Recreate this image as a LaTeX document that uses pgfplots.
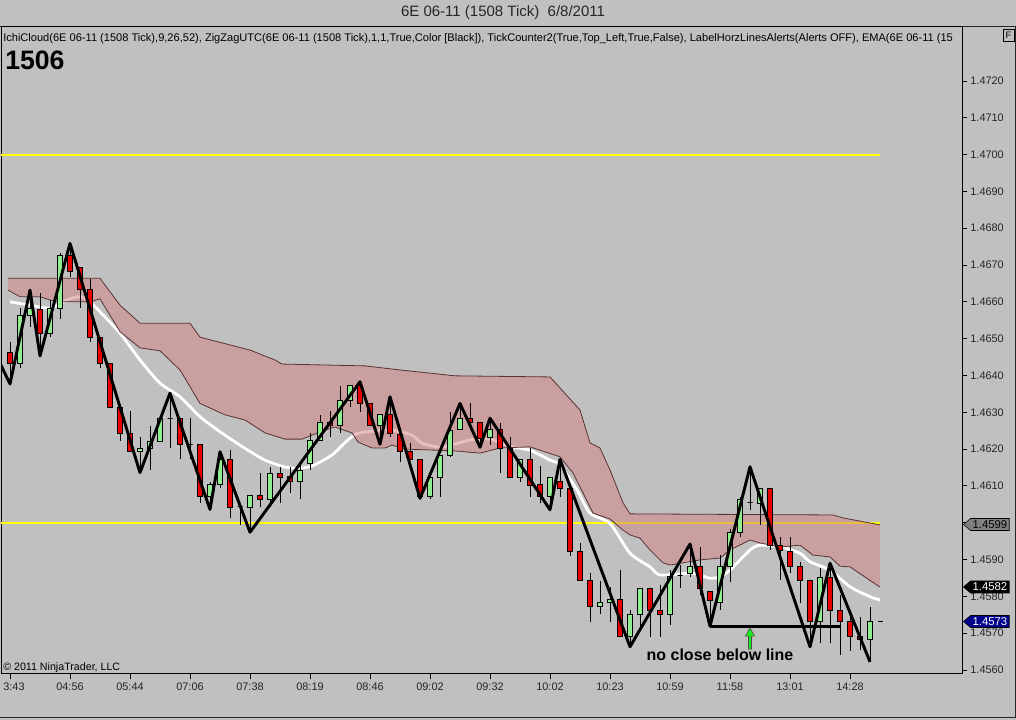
\documentclass[border=0pt]{standalone}
\usepackage{fontspec}
\setmainfont{Liberation Sans}
\usepackage{pgfplots}
\pgfplotsset{compat=1.18}
\usepackage{pgfplotstable}
\usetikzlibrary{shapes.symbols}

\definecolor{bggray}{RGB}{192,192,192}
\definecolor{cgreen}{RGB}{144,238,144}
\definecolor{cred}{RGB}{230,0,0}
\definecolor{cloudc}{RGB}{212,128,128}
\definecolor{cloudedge}{RGB}{90,50,50}
\definecolor{ylw}{RGB}{255,255,0}
\definecolor{mnavy}{RGB}{0,0,140}
\definecolor{mgray}{RGB}{128,128,128}
\definecolor{arrowgreen}{RGB}{30,235,30}

% candles: index, open, high, low, close
\pgfplotstableread{
x o h l c
1 1.46462 1.46492 1.46377 1.46433
2 1.46433 1.46583 1.46421 1.46564
3 1.46564 1.46632 1.46533 1.46583
4 1.46580 1.46624 1.46453 1.46513
5 1.46513 1.46605 1.46505 1.46581
6 1.46583 1.46733 1.46553 1.46725
7 1.46725 1.46759 1.46668 1.46682
8 1.46694 1.46695 1.46583 1.46634
9 1.46634 1.46662 1.46492 1.46504
10 1.46504 1.46505 1.46421 1.46433
11 1.46433 1.46434 1.46313 1.46313
12 1.46313 1.46314 1.46222 1.46243
13 1.46243 1.46304 1.46193 1.46193
14 1.46193 1.46233 1.46136 1.46202
15 1.46202 1.46263 1.46143 1.46222
16 1.46222 1.46285 1.46222 1.46284
17 1.46284 1.46352 1.46202 1.46284
18 1.46284 1.46285 1.46172 1.46213
19 1.46213 1.46284 1.46172 1.46213
20 1.46213 1.46214 1.46053 1.46071
21 1.46071 1.46111 1.46036 1.46104
22 1.46104 1.46193 1.46093 1.46172
23 1.46173 1.46197 1.46012 1.46042
24 1.46043 1.46043 1.45994 1.46043
25 1.46042 1.46073 1.45974 1.46073
26 1.46073 1.46134 1.46042 1.46064
27 1.46064 1.46152 1.46042 1.46134
28 1.46134 1.46152 1.46053 1.46123
29 1.46125 1.46152 1.46082 1.46112
30 1.46112 1.46161 1.46064 1.46143
31 1.46160 1.46243 1.46143 1.46223
32 1.46223 1.46293 1.46223 1.46273
33 1.46273 1.46304 1.46234 1.46263
34 1.46263 1.46372 1.46243 1.46331
35 1.46331 1.46372 1.46313 1.46372
36 1.46372 1.46383 1.46302 1.46324
37 1.46324 1.46325 1.46263 1.46263
38 1.46263 1.46293 1.46213 1.46293
39 1.46293 1.46342 1.46234 1.46243
40 1.46241 1.46241 1.46166 1.46193
41 1.46193 1.46216 1.46172 1.46172
42 1.46172 1.46173 1.46066 1.46071
43 1.46071 1.46123 1.46064 1.46123
44 1.46123 1.46182 1.46071 1.46182
45 1.46182 1.46302 1.46179 1.46252
46 1.46254 1.46324 1.46254 1.46284
47 1.46284 1.46324 1.46272 1.46272
48 1.46272 1.46272 1.46205 1.46229
49 1.46232 1.46284 1.46211 1.46254
50 1.46254 1.46272 1.46134 1.46202
51 1.46202 1.46234 1.46123 1.46123
52 1.46123 1.46172 1.46111 1.46172
53 1.46172 1.46202 1.46071 1.46102
54 1.46104 1.46154 1.46053 1.46071
55 1.46071 1.46123 1.46035 1.46123
56 1.46111 1.46172 1.46071 1.46093
57 1.46093 1.46093 1.45910 1.45921
58 1.45921 1.45944 1.45842 1.45842
59 1.45842 1.45863 1.45731 1.45772
60 1.45772 1.45842 1.45752 1.45783
61 1.45783 1.45826 1.45731 1.45792
62 1.45792 1.45871 1.45690 1.45690
63 1.45690 1.45763 1.45663 1.45752
64 1.45752 1.45822 1.45709 1.45822
65 1.45822 1.45822 1.45690 1.45763
66 1.45763 1.45831 1.45690 1.45752
67 1.45752 1.45871 1.45722 1.45853
68 1.45858 1.45885 1.45822 1.45858
69 1.45863 1.45942 1.45853 1.45880
70 1.45880 1.45935 1.45804 1.45822
71 1.45813 1.45813 1.45719 1.45790
72 1.45783 1.45912 1.45763 1.45880
73 1.45880 1.45982 1.45840 1.45973
74 1.45973 1.46071 1.45962 1.46064
75 1.46054 1.46152 1.46035 1.46054
76 1.46053 1.46093 1.45994 1.46093
77 1.46093 1.46093 1.45926 1.45939
78 1.45937 1.45962 1.45844 1.45924
79 1.45923 1.45962 1.45863 1.45880
80 1.45880 1.45894 1.45781 1.45844
81 1.45842 1.45842 1.45663 1.45731
82 1.45731 1.45876 1.45672 1.45852
83 1.45852 1.45890 1.45672 1.45763
84 1.45761 1.45804 1.45641 1.45731
85 1.45731 1.45754 1.45652 1.45690
86 1.45690 1.45745 1.45654 1.45683
87 1.45683 1.45772 1.45622 1.45731
}\candles

% cloud upper edge
\pgfplotstableread{
x y
0.8 1.46664
10 1.46664
12 1.46591
14 1.46542
19 1.46542
20 1.46504
25 1.46469
27.5 1.46442
28.2 1.46431
36.5 1.46426
40 1.46415
45.5 1.46399
55 1.46396
56 1.46366
58 1.46306
59 1.46217
60 1.46203
61 1.46143
62.3 1.46054
63 1.46024
83.3 1.46021
84.3 1.46013
88 1.45994
}\cloudup

% cloud lower edge
\pgfplotstableread{
x y
0.8 1.46632
2 1.46614
4 1.46614
5 1.46605
6 1.46600
9 1.46600
10 1.46608
12 1.46519
14 1.46475
16 1.46467
18 1.46415
20 1.46324
22.5 1.46293
24.5 1.46279
26.5 1.46244
28.5 1.46227
30.2 1.46227
32.5 1.46252
33.5 1.46260
35.2 1.46244
35.8 1.46219
37.2 1.46203
38.5 1.46203
39.2 1.46211
40.5 1.46200
45.5 1.46195
48 1.46189
50 1.46203
53 1.46206
56 1.46179
57.3 1.46135
58.3 1.46081
59.3 1.46026
61 1.46010
62.3 1.45980
63 1.45967
64 1.45958
65 1.45926
66.3 1.45891
67 1.45885
70 1.45899
72 1.45904
73 1.45926
75 1.45953
76 1.45945
78 1.45934
80 1.45939
81.3 1.45912
83 1.45907
84 1.45882
85 1.45880
88 1.45825
}\cloudlo

% cloud outline: upper edge forward, lower edge backward
\pgfplotstableread{
x y
0.8 1.46664
10 1.46664
12 1.46591
14 1.46542
19 1.46542
20 1.46504
25 1.46469
27.5 1.46442
28.2 1.46431
36.5 1.46426
40 1.46415
45.5 1.46399
55 1.46396
56 1.46366
58 1.46306
59 1.46217
60 1.46203
61 1.46143
62.3 1.46054
63 1.46024
83.3 1.46021
84.3 1.46013
88 1.45994
88 1.45825
85 1.45880
84 1.45882
83 1.45907
81.3 1.45912
80 1.45939
78 1.45934
76 1.45945
75 1.45953
73 1.45926
72 1.45904
70 1.45899
67 1.45885
66.3 1.45891
65 1.45926
64 1.45958
63 1.45967
62.3 1.45980
61 1.46010
59.3 1.46026
58.3 1.46081
57.3 1.46135
56 1.46179
53 1.46206
50 1.46203
48 1.46189
45.5 1.46195
40.5 1.46200
39.2 1.46211
38.5 1.46203
37.2 1.46203
35.8 1.46219
35.2 1.46244
33.5 1.46260
32.5 1.46252
30.2 1.46227
28.5 1.46227
26.5 1.46244
24.5 1.46279
22.5 1.46293
20 1.46324
18 1.46415
16 1.46467
14 1.46475
12 1.46519
10 1.46608
9 1.46600
6 1.46600
5 1.46605
4 1.46614
2 1.46614
0.8 1.46632
}\cloudpoly

\pgfplotstableread{
x y
1 1.46600
3 1.46591
5 1.46583
6.67 1.46605
8 1.46614
9 1.46600
10 1.46573
12 1.46515
14 1.46442
16 1.46379
18 1.46342
20 1.46288
22 1.46247
24.5 1.46202
26.5 1.46170
28.5 1.46151
29.8 1.46148
31.2 1.46154
33.2 1.46184
34.8 1.46225
35.8 1.46243
37.8 1.46250
39.2 1.46252
41.2 1.46238
42.2 1.46216
44.2 1.46205
47 1.46225
49 1.46227
51 1.46207
53 1.46197
55 1.46170
56 1.46157
57.7 1.46089
59 1.46026
61 1.45998
63 1.45917
65 1.45880
66 1.45858
69 1.45863
70 1.45858
71 1.45849
72 1.45853
73 1.45871
75 1.45926
76 1.45939
78 1.45935
80 1.45917
81 1.45894
83 1.45871
85 1.45826
87 1.45799
88 1.45790
}\ema

\pgfplotstableread{
x y
0 1.46433
1 1.46377
3 1.46632
4 1.46453
7 1.46759
14 1.46136
17 1.46352
21 1.46036
22 1.46193
25 1.45974
36 1.46383
38 1.46213
39 1.46342
42 1.46066
46 1.46324
48 1.46205
49 1.46284
55 1.46035
56 1.46172
63 1.45663
69 1.45942
71 1.45719
75 1.46152
81 1.45663
83 1.45890
87 1.45622
}\zigzag

\begin{document}
\begin{tikzpicture}
\fill[bggray] (0,0) rectangle (762pt,540pt);

\begin{scope}[x=0.75pt,y=-0.75pt,yshift=540pt]
  \node[font=\fontsize{11.25pt}{13pt}\selectfont, text=black!85] at (503,13) {6E 06-11 (1508 Tick)\ \ 6/8/2011};
  \draw[black!85, line width=0.75pt] (0,27) -- (1015,27) -- (1015,718) -- (0,718);
  \draw[black, line width=0.6pt] (1003,29) rectangle (1014,41);
  \node[font=\fontsize{7pt}{8pt}\selectfont, inner sep=0] at (1008.5,35) {F};
  \begin{scope}
    \clip (1,27) rectangle (961,674);
    \node[anchor=base west, inner sep=0, font=\fontsize{8.3pt}{10pt}\selectfont] at (3,42) {IchiCloud(6E 06-11 (1508 Tick),9,26,52), ZigZagUTC(6E 06-11 (1508 Tick),1,1,True,Color [Black]), TickCounter2(True,Top\_Left,True,False), LabelHorzLinesAlerts(Alerts OFF), EMA(6E 06-11 (15};
  \end{scope}
  \node[anchor=base west, inner sep=0, font=\bfseries\fontsize{20pt}{24pt}\selectfont] at (5,69.3) {1506};
\end{scope}

\begin{axis}[
  at={(0.75pt,34.5pt)}, anchor=south west,
  width=720.75pt, height=485.25pt, scale only axis,
  xmin=0.1, xmax=96.2, ymin=1.45589, ymax=1.473467,
  axis line style={black, line width=0.75pt},
  tick align=outside,
  xtick pos=left, ytick pos=right, yticklabel pos=right,
  major tick length=3.75pt,
  tick style={black, line width=0.6pt},
  xtick={1,7,13,19,25,31,37,43,49,55,61,67,73,79,85},
  xticklabels={\hspace*{6pt}3:43,04:56,05:44,07:06,07:38,08:19,08:46,09:02,09:32,10:02,10:23,10:59,11:58,13:01,14:28},
  ytick={1.4560,1.4570,1.4580,1.4590,1.4600,1.4610,1.4620,1.4630,1.4640,1.4650,1.4660,1.4670,1.4680,1.4690,1.4700,1.4710,1.4720},
  yticklabels={1.4560,1.4570,1.4580,1.4590,,1.4610,1.4620,1.4630,1.4640,1.4650,1.4660,1.4670,1.4680,1.4690,1.4700,1.4710,1.4720},
  scaled y ticks=false,
  ticklabel style={font=\fontsize{8.2pt}{10pt}\selectfont, text=black!85},
  xticklabel style={yshift=1pt},
  yticklabel style={xshift=-1pt},
]
% horizontal alert lines
\addplot[ylw, line width=1.6pt] coordinates {(0.1,1.4700) (88,1.4700)};
\addplot[ylw, line width=1.6pt] coordinates {(0.1,1.4600) (88,1.4600)};
% EMA
\addplot[white, line width=2.1pt, smooth, tension=0.4] table[x=x,y=y] {\ema};
% cloud
\addplot[fill=cloudc, fill opacity=0.5, draw=none] table[x=x,y=y] {\cloudpoly} --cycle;
\addplot[cloudedge, line width=0.6pt] table[x=x,y=y] {\cloudup};
\addplot[cloudedge, line width=0.6pt] table[x=x,y=y] {\cloudlo};
% candles
\pgfplotsinvokeforeach{0,...,86}{%
  \pgfplotstablegetelem{#1}{x}\of{\candles}\edef\cx{\pgfplotsretval}%
  \pgfplotstablegetelem{#1}{o}\of{\candles}\edef\co{\pgfplotsretval}%
  \pgfplotstablegetelem{#1}{h}\of{\candles}\edef\ch{\pgfplotsretval}%
  \pgfplotstablegetelem{#1}{l}\of{\candles}\edef\cl{\pgfplotsretval}%
  \pgfplotstablegetelem{#1}{c}\of{\candles}\edef\cc{\pgfplotsretval}%
  \pgfmathsetmacro{\xa}{\cx-0.25}%
  \pgfmathsetmacro{\xb}{\cx+0.25}%
  \ifdim\cc pt>\co pt \def\ccol{cgreen}\else\def\ccol{cred}\fi
  \edef\temp{%
    \noexpand\addplot[black, line width=0.75pt] coordinates {(\cx,\cl) (\cx,\ch)};%
    \noexpand\addplot[draw=black, line width=0.6pt, fill=\ccol] coordinates {(\xa,\co) (\xb,\co) (\xb,\cc) (\xa,\cc)} --cycle;%
  }\temp
}
% zigzag
\addplot[black, line width=2.2pt, line join=round] table[x=x,y=y] {\zigzag};
% support line
\addplot[black, line width=2.4pt] coordinates {(71,1.45719) (84,1.45719)};
% green arrow
\addplot[draw=black!70, line width=0.5pt, fill=arrowgreen] coordinates {(75,1.45714) (75.45,1.45692) (75.15,1.45692) (75.15,1.45657) (74.85,1.45657) (74.85,1.45692) (74.55,1.45692)} --cycle;
% last price tick
\addplot[black, line width=0.75pt] coordinates {(87.8,1.45731) (88.3,1.45731)};
\end{axis}

\begin{scope}[x=0.75pt,y=-0.75pt,yshift=540pt]
  \node[anchor=base, inner sep=0, font=\bfseries\fontsize{12pt}{14pt}\selectfont] at (720,661) {no close below line};
  \node[anchor=base west, inner sep=0, font=\fontsize{8pt}{10pt}\selectfont] at (3,671) {© 2011 NinjaTrader, LLC};
  \node[signal, signal to=west, signal pointer angle=80, draw=black, fill=mgray, text=black, font=\fontsize{8.5pt}{9pt}\selectfont, inner xsep=1.5pt, inner ysep=1pt, minimum height=9pt, anchor=west] at (963,524.5) {1.4599};
  \node[signal, signal to=west, signal pointer angle=80, draw=black, fill=black, text=white, font=\fontsize{8.5pt}{9pt}\selectfont, inner xsep=1.5pt, inner ysep=1pt, minimum height=9pt, anchor=west] at (963,587) {1.4582};
  \node[signal, signal to=west, signal pointer angle=80, draw=black, fill=mnavy, text=white, font=\fontsize{8.5pt}{9pt}\selectfont, inner xsep=1.5pt, inner ysep=1pt, minimum height=9pt, anchor=west] at (963,621.5) {1.4573};
\end{scope}
\pgfresetboundingbox
\useasboundingbox (0,0) rectangle (762pt,540pt);
\end{tikzpicture}
\end{document}
